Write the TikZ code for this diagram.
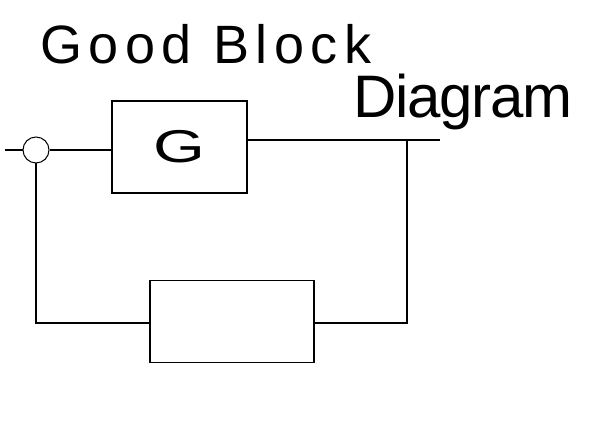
\documentclass[tikz,border=0pt]{standalone}
\usepackage{fontspec}
\setmainfont{Liberation Sans}
\begin{document}
\begin{tikzpicture}[x=1pt,y=1pt,
  block/.style={draw,line width=1.2pt,minimum width=#1,inner sep=0pt},
  wire/.style={line width=2.8pt},
  sumj/.style={circle,draw,line width=1pt,minimum size=26pt,inner sep=0pt},
  title/.style={anchor=base west,inner sep=0pt}]
\useasboundingbox (0,0) rectangle (593,427);
% title
\node[title] (t1) at (40,363) {\fontsize{54}{60}\selectfont\addfontfeature{LetterSpace=12}Good Block};
\node[title] (t2) at (353,309) {\fontsize{60}{66}\selectfont\addfontfeature{LetterSpace=-2}Diagram};
% blocks
\node[sumj] (s) at (36,277) {};
\node[block=135pt,minimum height=92pt] (G) at (179.5,280) {\scalebox{1.45}[1]{\fontsize{46}{50}\selectfont G}};
\node[block=164pt,minimum height=82pt] (H) at (232,105.5) {};
% coordinates
\coordinate (in) at (5,277);
\coordinate (gout) at (247,287);
\coordinate (jn) at (407,287);
\coordinate (out) at (440,287);
\coordinate (br) at (407,104);
\coordinate (bl) at (36,104);
% wires
\draw[wire] (in) -- (s.west);
\draw[wire] (s.east) -- (G.west |- s.east);
\draw[wire] (gout) -- (out);
\draw[wire,line join=miter] (jn) -- (br) -- (H.east |- br);
\draw[wire,line join=miter] (H.west |- bl) -- (bl) -- (s.south);
\end{tikzpicture}
\end{document}
